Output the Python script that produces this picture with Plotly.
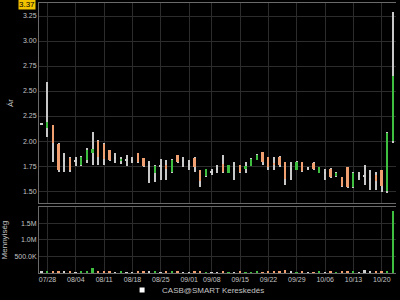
import plotly.graph_objects as go

dates = ["2014-07-25",
         "2014-07-28", "2014-07-29", "2014-07-30", "2014-07-31", "2014-08-01",
         "2014-08-04", "2014-08-05", "2014-08-06", "2014-08-07", "2014-08-08",
         "2014-08-11", "2014-08-12", "2014-08-13", "2014-08-14", "2014-08-15",
         "2014-08-18", "2014-08-19", "2014-08-20", "2014-08-21", "2014-08-22",
         "2014-08-25", "2014-08-26", "2014-08-27", "2014-08-28", "2014-08-29",
         "2014-09-02", "2014-09-03", "2014-09-04", "2014-09-05",
         "2014-09-08", "2014-09-09", "2014-09-10", "2014-09-11", "2014-09-12",
         "2014-09-15", "2014-09-16", "2014-09-17", "2014-09-18", "2014-09-19",
         "2014-09-22", "2014-09-23", "2014-09-24", "2014-09-25", "2014-09-26",
         "2014-09-29", "2014-09-30", "2014-10-01", "2014-10-02", "2014-10-03",
         "2014-10-06", "2014-10-07", "2014-10-08", "2014-10-09", "2014-10-10",
         "2014-10-13", "2014-10-14", "2014-10-15", "2014-10-16", "2014-10-17",
         "2014-10-20", "2014-10-21", "2014-10-22"]

opens = [2.17, 2.13, 2.16, 1.97, 1.80, 1.83, 1.80, 1.76, 1.81, 1.88, 2.00,
         1.97, 1.91, 1.83, 1.80, 1.81, 1.81, 1.88, 1.83, 1.75, 1.68,
         1.75, 1.76, 1.69, 1.86, 1.80, 1.76, 1.83, 1.71, 1.65,
         1.69, 1.72, 1.77, 1.68, 1.72, 1.76, 1.72, 1.75, 1.81, 1.89,
         1.84, 1.78, 1.84, 1.79, 1.72, 1.71, 1.79, 1.73, 1.78, 1.68,
         1.68, 1.72, 1.65, 1.64, 1.74, 1.54, 1.65, 1.65, 1.62, 1.66,
         1.71, 1.50, 2.00]
highs = [2.18, 2.59, 2.16, 1.98, 1.88, 1.84, 1.84, 1.85, 1.93, 2.09, 2.01,
         1.98, 1.91, 1.88, 1.84, 1.86, 1.84, 1.88, 1.83, 1.80, 1.76,
         1.82, 1.81, 1.82, 1.86, 1.84, 1.81, 1.84, 1.71, 1.72,
         1.72, 1.76, 1.86, 1.76, 1.79, 1.76, 1.79, 1.83, 1.87, 1.89,
         1.84, 1.84, 1.85, 1.79, 1.79, 1.80, 1.79, 1.74, 1.79, 1.74,
         1.72, 1.73, 1.69, 1.64, 1.74, 1.69, 1.69, 1.76, 1.71, 1.69,
         1.71, 2.09, 3.29]
lows = [2.16, 2.04, 1.79, 1.69, 1.69, 1.69, 1.75, 1.75, 1.78, 1.76, 1.76,
        1.76, 1.80, 1.78, 1.77, 1.75, 1.78, 1.78, 1.74, 1.58, 1.59,
        1.61, 1.61, 1.68, 1.78, 1.74, 1.71, 1.69, 1.54, 1.64,
        1.66, 1.68, 1.68, 1.68, 1.61, 1.68, 1.68, 1.75, 1.81, 1.76,
        1.71, 1.71, 1.74, 1.56, 1.61, 1.71, 1.69, 1.71, 1.71, 1.68,
        1.61, 1.63, 1.64, 1.54, 1.53, 1.53, 1.61, 1.56, 1.51, 1.51,
        1.49, 1.48, 1.98]
closes = [2.17, 2.19, 1.98, 1.71, 1.80, 1.71, 1.80, 1.84, 1.91, 1.92, 1.84,
          1.82, 1.81, 1.83, 1.82, 1.81, 1.81, 1.79, 1.75, 1.75, 1.75,
          1.75, 1.72, 1.81, 1.79, 1.80, 1.76, 1.74, 1.60, 1.72,
          1.69, 1.72, 1.69, 1.76, 1.72, 1.69, 1.75, 1.82, 1.86, 1.79,
          1.74, 1.76, 1.76, 1.62, 1.72, 1.79, 1.70, 1.73, 1.72, 1.74,
          1.68, 1.64, 1.68, 1.55, 1.54, 1.68, 1.65, 1.65, 1.62, 1.60,
          1.55, 2.08, 2.65]
volumes = [30000, 40000, 35000, 45000, 30000, 40000, 25000, 50000, 60000, 150000, 70000,
           45000, 35000, 20000, 30000, 25000, 20000, 35000, 30000, 40000, 30000,
           25000, 30000, 35000, 30000, 20000, 25000, 30000, 35000, 25000,
           20000, 25000, 30000, 20000, 25000, 30000, 25000, 20000, 30000, 25000,
           30000, 50000, 35000, 80000, 30000, 25000, 30000, 20000, 25000, 30000,
           25000, 30000, 20000, 35000, 40000, 30000, 25000, 90000, 30000, 35000,
           40000, 60000, 1850000]

tick_dates = ["2014-07-28", "2014-08-04", "2014-08-11", "2014-08-18", "2014-08-25",
              "2014-09-02", "2014-09-08", "2014-09-15", "2014-09-22", "2014-09-29",
              "2014-10-06", "2014-10-13", "2014-10-20"]
tick_labels = ["07/28", "08/04", "08/11", "08/18", "08/25", "09/01", "09/08",
               "09/15", "09/22", "09/29", "10/06", "10/13", "10/20"]

vol_ticks = [500000, 1000000, 1500000]
vol_labels = ["500.0K", "1.0M", "1.5M"]

last_label = "3.37"
series_name = "CASB@SMART Kereskedés"

GREEN = "#3fbf3f"
ORANGE = "#f0a070"
GRAY = "#d0d0d0"


def col(o, c):
    if c > o:
        return GREEN
    if c < o:
        return ORANGE
    return GRAY


colors = [col(o, c) for o, c in zip(opens, closes)]
body_base = [min(o, c) for o, c in zip(opens, closes)]
body_h = [max(abs(c - o), 0.008) for o, c in zip(opens, closes)]
wick_h = [h - l for h, l in zip(highs, lows)]

fig = go.Figure()
fig.add_trace(go.Bar(x=dates, y=wick_h, base=lows, width=0.18,
                     marker=dict(color="#c8c8c8", line_width=0),
                     xaxis="x", yaxis="y", showlegend=False, hoverinfo="skip"))
fig.add_trace(go.Bar(x=dates, y=body_h, base=body_base, width=0.34,
                     marker=dict(color=colors, line_width=0),
                     xaxis="x", yaxis="y", showlegend=False))
fig.add_trace(go.Bar(x=dates, y=volumes, width=0.34,
                     marker=dict(color=colors, line_width=0),
                     xaxis="x2", yaxis="y2", showlegend=False))
fig.add_trace(go.Scatter(x=[None], y=[None], mode="markers", name=series_name,
                         marker=dict(symbol="square", size=5, color="white"),
                         xaxis="x", yaxis="y", showlegend=True))

LINE = "#6a6a6a"
GRID = "#2c2c2c"
TXT = "#c4c4c4"
font = dict(family="Liberation Sans, Arial, sans-serif", size=7, color=TXT)

fig.update_layout(
    width=400, height=300,
    margin=dict(l=39, r=4, t=3, b=27, autoexpand=False),
    paper_bgcolor="black", plot_bgcolor="black",
    font=font,
    barmode="overlay", bargap=0,
    xaxis=dict(type="category", domain=[0, 1], anchor="y", range=[-0.5, 62.5],
               tickvals=tick_dates, ticktext=tick_labels, showticklabels=False,
               showgrid=True, gridcolor=GRID, gridwidth=1,
               showline=True, linecolor=LINE, mirror=True, ticks="", matches="x2"),
    yaxis=dict(domain=[0.259, 1], anchor="x", range=[1.38, 3.38],
               tickvals=[1.5, 1.75, 2.0, 2.25, 2.5, 2.75, 3.0, 3.25], tickformat=".2f",
               showgrid=True, gridcolor=GRID, zeroline=False,
               showline=True, linecolor=LINE, ticks="",
               title=dict(text="Ár", font=dict(size=8, color=TXT), standoff=8)),
    xaxis2=dict(type="category", domain=[0, 1], anchor="y2", range=[-0.5, 62.5],
                tickvals=tick_dates, ticktext=tick_labels, tickangle=0,
                showgrid=True, gridcolor=GRID,
                showline=True, linecolor=LINE, mirror=True, ticks=""),
    yaxis2=dict(domain=[0, 0.244], anchor="x2", range=[0, 1980000],
                tickvals=vol_ticks, ticktext=vol_labels,
                showgrid=True, gridcolor=GRID, zeroline=False,
                showline=True, linecolor=LINE, ticks="",
                title=dict(text="Mennyiség", font=dict(size=8, color=TXT), standoff=6)),
    legend=dict(orientation="h", x=0.44, xanchor="center", y=-0.063, yanchor="middle",
                font=dict(size=8, color=TXT), bgcolor="rgba(0,0,0,0)",
                itemwidth=30, tracegroupgap=0),
    annotations=[dict(text=last_label, x=0, xref="paper", xanchor="right", xshift=-3,
                      y=3.37, yref="y", yanchor="middle", showarrow=False,
                      bgcolor="#f2c400", font=dict(size=8, color="black"),
                      borderpad=0)],
)

fig.write_html("out.html")
